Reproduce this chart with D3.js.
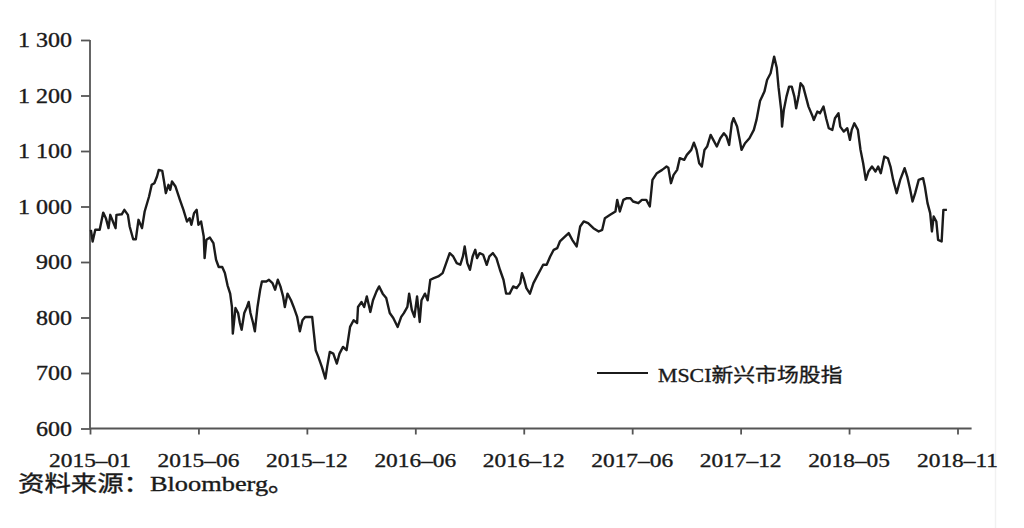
<!DOCTYPE html>
<html>
<head>
<meta charset="utf-8">
<script src="https://cdn.jsdelivr.net/npm/d3@7/dist/d3.min.js"></script>
<style>
  html, body { margin: 0; padding: 0; background: #fff; }
  svg { display: block; }
</style>
</head>
<body>
<svg id="chart" width="1024" height="528"></svg>
<script>
// Trading-day index since 2015-01 (x) and MSCI EM index level (y)
const days = [1,3,6,11,15,18,21,23,26,29,30,36,39,43,45,49,52,55,59,62,67,70,73,76,78,82,84,86,89,91,93,97,102,106,110,113,115,118,121,123,126,129,130,132,136,140,143,146,150,153,156,159,161,162,165,168,170,172,175,178,180,182,185,187,190,193,195,200,203,207,210,213,216,219,221,224,228,231,235,238,241,244,248,252,254,256,259,263,267,269,272,276,280,283,287,291,295,299,303,304,308,311,314,318,321,325,328,332,336,340,344,349,353,356,360,362,365,368,371,374,376,380,383,386,390,395,400,404,408,412,416,420,423,425,428,431,434,437,439,442,446,450,453,457,461,465,469,472,476,480,484,488,490,492,495,499,503,507,511,514,518,522,526,530,533,539,543,547,552,556,560,565,571,577,581,584,590,596,598,601,605,609,613,616,622,626,631,635,638,643,649,654,656,659,662,666,669,674,677,682,685,688,691,694,697,700,704,707,711,715,719,722,725,728,730,734,737,739,743,748,753,756,760,765,768,772,776,779,781,784,785,787,790,793,796,799,801,804,806,809,812,815,819,821,825,828,832,835,838,842,845,849,851,855,859,862,864,867,871,874,877,880,883,887,891,894,897,901,905,908,911,915,919,924,927,930,933,936,940,945,947,950,953,955,957,960,962,966,968,972];
const values = [958,937,958,958,989,979,961,985,973,961,985,986,994,985,964,941,941,976,961,991,1018,1039,1042,1054,1066,1064,1045,1024,1039,1030,1045,1036,1012,994,973,979,967,988,994,967,973,946,907,940,944,934,904,891,891,880,858,843,819,771,817,808,790,778,808,819,828,808,790,775,819,850,865,865,868,862,850,868,856,838,819,843,831,819,801,775,795,801,801,801,771,741,729,711,690,711,738,735,717,735,747,741,783,795,790,819,828,819,838,810,831,847,856,843,835,808,799,783,801,808,819,843,814,801,838,792,831,843,831,868,871,874,880,898,916,910,898,895,910,928,898,886,910,922,907,916,913,895,910,916,907,886,868,843,843,856,853,862,880,871,853,843,862,874,886,895,895,910,922,925,937,946,952,940,928,964,973,970,961,955,958,979,985,991,1012,991,1012,1015,1015,1009,1006,1012,1012,1000,1048,1060,1066,1072,1070,1042,1057,1066,1087,1084,1093,1102,1115,1102,1078,1072,1102,1108,1129,1120,1108,1123,1132,1126,1111,1150,1159,1144,1120,1102,1114,1123,1138,1156,1190,1207,1228,1240,1270,1250,1215,1174,1144,1174,1198,1216,1216,1198,1177,1201,1222,1216,1198,1180,1165,1156,1171,1168,1180,1159,1141,1138,1159,1168,1144,1135,1141,1120,1138,1150,1138,1102,1078,1048,1063,1072,1063,1072,1060,1090,1087,1072,1048,1024,1048,1069,1054,1033,1009,1024,1048,1051,1036,1006,988,955,982,973,940,937,994,994];
const xTickDays = [0,123,246,369,492,615,738,861,984];
const xTickLabels = ["2015–01","2015–06","2015–12","2016–06","2016–12","2017–06","2017–12","2018–05","2018–11"];
const yTicks = [600,700,800,900,1000,1100,1200,1300];
const yTickLabels = ["600","700","800","900","1 000","1 100","1 200","1 300"];
const seriesName = "MSCI新兴市场股指";
const sourceText = "资料来源：Bloomberg。";

const svg = d3.select("#chart");
const serif = "'Liberation Serif','Times New Roman','Noto Sans CJK SC',serif";
const sx = 1.2; // horizontal stretch of the reference typography
const ink = "#1a1a1a";

const x = d3.scaleLinear().domain([0, 1000]).range([90, 971.6]);
const y = d3.scaleLinear().domain([600, 1300]).range([428.5, 40]);

function styleText(sel, size) {
  return sel.attr("font-family", serif).attr("font-size", size)
    .attr("fill", ink).attr("stroke", ink).attr("stroke-width", 0.35);
}

// faint right edge
svg.append("line").attr("x1", 995.5).attr("x2", 995.5).attr("y1", 0).attr("y2", 528)
  .attr("stroke", "#f1f1f1").attr("stroke-width", 1.5);

// Y axis
const yAxis = svg.append("g").attr("transform", `translate(${x(0)},0)`)
  .call(d3.axisLeft(y).tickValues(yTicks).tickSize(9).tickFormat(""));
yAxis.select(".domain").attr("d", `M0,${y(600)}V${y(1300)}`);
yAxis.selectAll("path,line").attr("stroke", "#555").attr("stroke-width", 1.8);

yTicks.forEach((t, i) => {
  styleText(svg.append("text"), 20)
    .attr("transform", `translate(72,${y(t) + 7}) scale(${sx},1)`)
    .attr("text-anchor", "end")
    .text(yTickLabels[i]);
});

// X axis
const xAxis = svg.append("g").attr("transform", `translate(0,${y(600)})`)
  .call(d3.axisBottom(x).tickValues(xTickDays).tickSize(6).tickFormat(""));
xAxis.select(".domain").attr("d", `M${x(0)},0H${x(1000)}`);
xAxis.selectAll("path,line").attr("stroke", "#555").attr("stroke-width", 1.8);

xTickDays.forEach((d, i) => {
  styleText(svg.append("text"), 19.5)
    .attr("transform", `translate(${x(d)},467) scale(${sx},1)`)
    .attr("text-anchor", "middle")
    .text(xTickLabels[i]);
});

// Line
const pts = days.map((d, i) => [d, values[i]]);
svg.append("path").datum(pts)
  .attr("fill", "none").attr("stroke", "#1b1b1b").attr("stroke-width", 2.4)
  .attr("stroke-linejoin", "round")
  .attr("d", d3.line().x(p => x(p[0])).y(p => y(p[1])));

// Legend
svg.append("line").attr("x1", 597).attr("x2", 648).attr("y1", 373).attr("y2", 373)
  .attr("stroke", "#1b1b1b").attr("stroke-width", 2.2);
styleText(svg.append("text"), 19)
  .attr("transform", `translate(658,382) scale(1.15,1)`)
  .text(seriesName);

// Source note
styleText(svg.append("text"), 22)
  .attr("transform", `translate(18,491) scale(${sx},1)`)
  .text(sourceText);
</script>
</body>
</html>
